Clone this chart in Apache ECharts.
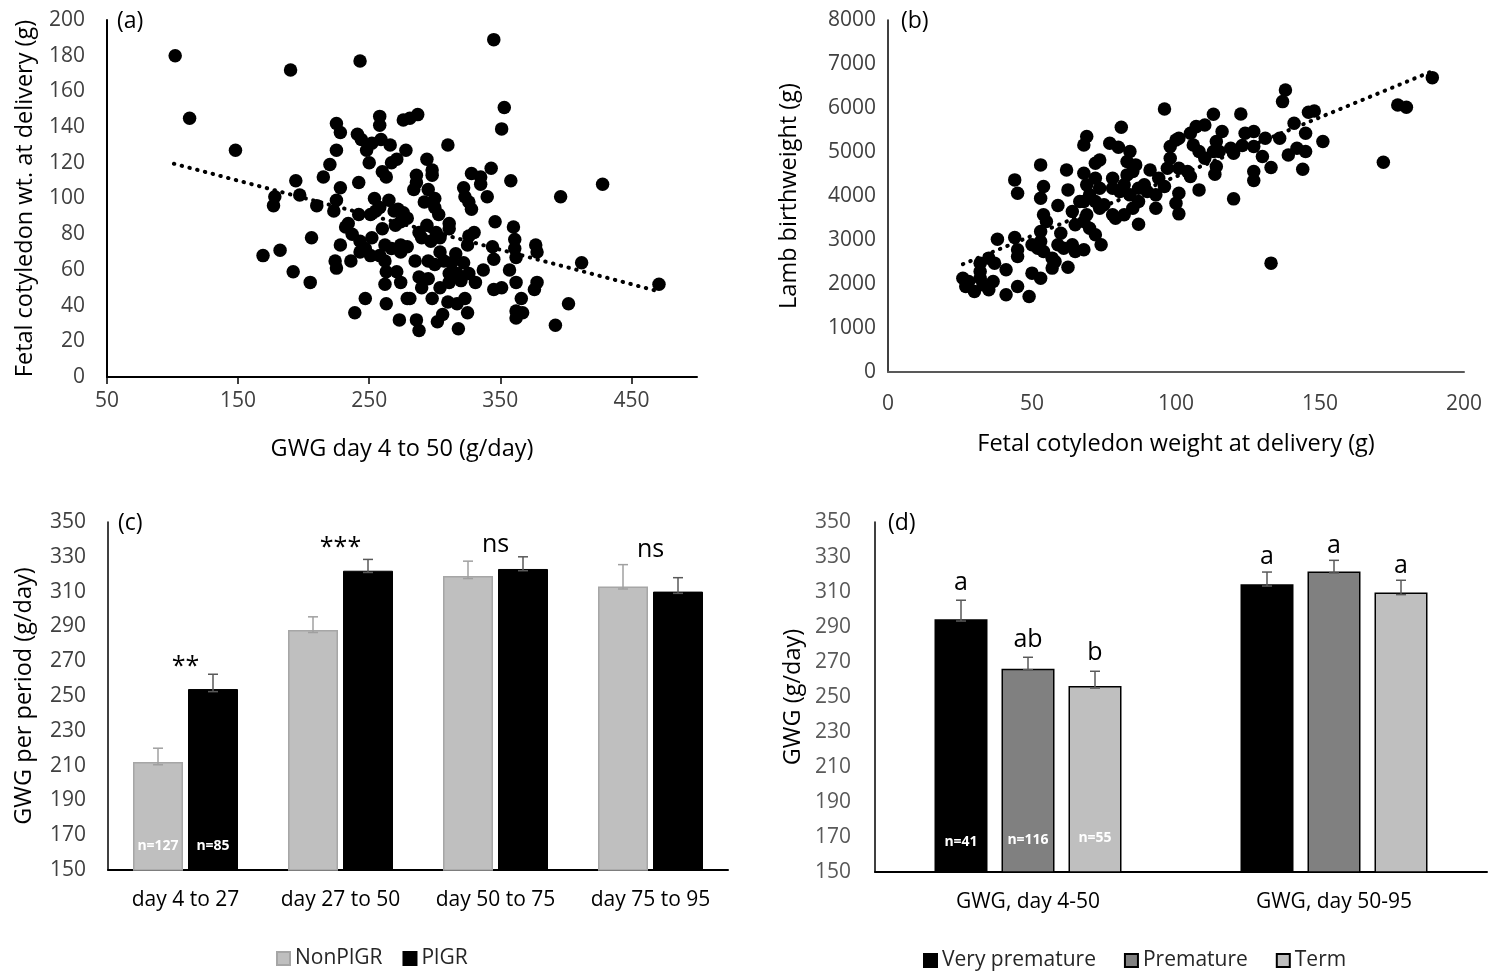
<!DOCTYPE html>
<html>
<head>
<meta charset="utf-8">
<script src="https://cdn.jsdelivr.net/npm/echarts@6/dist/echarts.min.js"></script>
<style>
  html, body { margin: 0; padding: 0; background: #fff; }
  #main { width: 1488px; height: 971px; }
</style>
</head>
<body>
<div id="main"></div>
<script>
// ---- panel (a): GWG day 4-50 vs fetal cotyledon weight ----
const scatterA = [
  [102,180],[190,172],[113,145],[148,127],[194,110],[197,102],[178,101],[177,96],[169,68],[182,71],[192,59],
  [345,189],[243,177],[258,146],[258,141],[276,144],[281,145],[287,147],[225,142],[228,137],[241,136],[244,133],
  [252,131],[259,133],[266,130],[248,127],[278,127],[271,122],[267,120],[250,120],[225,127],[220,119],[310,130],
  [294,122],[298,116],[298,113],[286,113],[286,109],[284,105],[260,115],[263,112],[215,112],[242,109],[228,106],
  [210,96],[223,93],[225,99],[254,100],[265,99],[295,105],[300,100],[300,95],[303,91],[292,98],[322,106],[323,101],
  [326,98],[328,94],[328,114],[335,112],[335,108],[343,117],[340,101],[346,87],[344,73],[345,66],[345,49],[337,60],
  [325,74],[330,81],[326,79],[311,86],[311,83],[331,53],[325,36],[318,27],[323,44],[310,42],[317,41],[306,35],
  [302,31],[288,26],[286,32],[273,32],[298,44],[304,50],[290,50],[295,55],[288,56],[279,44],[281,44],[263,41],
  [262,52],[247,44],[239,36],[205,53],[206,78],[228,74],[224,65],[225,61],[236,65],[232,84],[234,86],[237,80],
  [242,91],[251,91],[255,93],[258,95],[260,83],[269,93],[272,94],[276,92],[279,89],[274,87],[270,85],[243,76],
  [243,70],[247,72],[252,78],[251,68],[258,68],[262,74],[262,65],[267,72],[274,70],[279,73],[274,74],[285,65],
  [288,81],[294,85],[290,78],[297,76],[295,65],[300,63],[304,70],[307,65],[316,69],[313,64],[322,64],[311,58],
  [317,58],[326,58],[311,53],[320,54],[263,59],[271,59],[274,53],[301,81],[304,78],
  [353,151],[351,139],[358,110],[396,101],[428,108],[360,84],[361,77],[361,72],[362,67],[377,74],[378,70],
  [357,60],[351,50],[362,53],[378,53],[376,49],[366,44],[362,37],[367,36],[362,33],[402,41],[392,29],[412,64],[471,52]
];
const trendA = [[101,119.5],[468,48.5]];
const ticksAx = [50,150,250,350,450];

// ---- panel (b): cotyledon weight vs lamb birthweight ----
const scatterB = [
  [26,2133],[27,1944],[30,1831],[28,2058],[32,2133],[33,1982],[35,1869],[36.5,2058],[32,2285],[32,2474],[35,2588],
  [37,2474],[38,3019],[41,2323],[41,1755],[45,1944],[49,1717],[44,3057],[45,2777],[45,2625],[50,2890],[52,2815],
  [53,2966],[54,2739],[50,2247],[53,2133],[57,2361],[58,2512],[62.5,2383],[57,2588],[59,2890],[60,3155],[61,2815],
  [64,2890],[65,2739],[53,3193],[55,3420],[54,3572],[53,3950],[54,4215],[53,4707],[44,4366],[45,4064],[62,4593],
  [59,3783],[62.5,4139],[64,3647],[65,3345],[66.6,3874],
  [96,5979],[81,5562],[69,5350],[68,5161],[77,5199],[80,5108],[84,5010],[73.5,4820],[72,4745],[83,4783],[86,4707],
  [91,4593],[94,4404],[96,4215],[68,4518],[72,4404],[69,4253],[73.5,4177],[70,4026],[68,3874],[72,3874],[75,3799],
  [78,4404],[78,4177],[80.5,4101],[83,4480],[85,4556],[82,4253],[84,4026],[87,4177],[89,4253],[87,3874],[90,4101],
  [93,4026],[93,3723],[85,3723],[82,3572],[78,3572],[79,3496],[73.5,3723],[69,3572],[70,3269],[68,3420],[72,3118],
  [74,2890],[68,2777],[87,3360],
  [98,5123],[100,5275],[101,5312],[98,4858],[97,4631],[101,4631],[104,4556],[105,4442],[100,3836],[101,3594],
  [101,4064],[108,4139],[105,5426],[107,5577],[110,5615],[113,5857],[106,5161],[108,5010],[110,4858],[113,5010],
  [114,5237],[116,5464],[115,5010],[114,4669],[113.5,4495],[120,4972],[119,5085],[120,3935],[122.5,5865],[124,5426],
  [127,5464],[131,5312],[123,5146],[127,5123],[130,4896],[133,4646],[127,4556],[127,4351],[133,2474],
  [138,6410],[137,6145],[146,5903],[148,5933],[141,5653],[145,5426],[151,5237],[136,5312],[139,4934],[142,5085],
  [145,5010],[144,4609],[172,4767],[177,6069],[180,6016],[189,6690]
];
const trendB = [[26,2450],[188,6810]];

// ---- panel (c): GWG per period, NonPlGR vs PlGR ----
const periods = ['day 4 to 27', 'day 27 to 50', 'day 50 to 75', 'day 75 to 95'];
const nonPlgr = [212, 288, 319, 313];
const plgr = [254, 322, 323, 310];
const nonPlgrErrLow = [210.5, 286.5, 317.5, 311.5];
const nonPlgrErrHigh = [220, 295.5, 327.5, 325.5];
const plgrErrLow = [252.5, 321, 322, 309];
const plgrErrHigh = [262.5, 328.5, 330, 318];
const sigText = ['**', '***', 'ns', 'ns'];
const sigY = [267, 335, 337, 334];
const nTextC = ['n=127', 'n=85'];
const nYC = 163.5;

// ---- panel (d): GWG by gestation length ----
const windows = ['GWG, day 4-50', 'GWG, day 50-95'];
const veryPremature = [294.4, 314.4];
const premature = [266.2, 321.7];
const term = [256.3, 309.7];
const vpErr = [[293.4, 305.3], [313.4, 321.4]];
const prErr = [[265.6, 272.7], [320.9, 328.1]];
const tmErr = [[255.1, 264.7], [308.5, 316.7]];
const letters = [['a', 'a'], ['ab', 'a'], ['b', 'a']];
const letterY = [[315, 330], [282.5, 336.5], [275, 325]];
const nTextD = ['n=41', 'n=116', 'n=55'];
const nYD = [167, 168.5, 169.5];

const ticksGWG = [150,170,190,210,230,250,270,290,310,330,350];

const FONT = '"Open Sans", "Noto Sans", sans-serif';
const TICK = '#404040';

// bar geometry (px)
const BW_C = 50, GAP_C = 5;
const BW_D = 53, GAP_D = 14;
const offC = [-(BW_C + GAP_C) / 2, (BW_C + GAP_C) / 2];
const offD = [-(BW_D + GAP_D), 0, BW_D + GAP_D];

const chart = echarts.init(document.getElementById('main'));

function errSeries(gi, lows, highs, off, color) {
  return {
    type: 'custom', xAxisIndex: gi, yAxisIndex: gi, z: 5, silent: true,
    data: lows.map((l, i) => [i, l, highs[i]]),
    renderItem: (params, api) => {
      const lo = api.coord([api.value(0), api.value(1)]);
      const hi = api.coord([api.value(0), api.value(2)]);
      const x = lo[0] + off, c = 5;
      const st = { stroke: color, lineWidth: 1.5 };
      return { type: 'group', children: [
        { type: 'line', shape: { x1: x, y1: lo[1], x2: x, y2: hi[1] }, style: st },
        { type: 'line', shape: { x1: x - c, y1: hi[1], x2: x + c, y2: hi[1] }, style: st },
        { type: 'line', shape: { x1: x - c, y1: lo[1], x2: x + c, y2: lo[1] }, style: st }
      ]};
    }
  };
}

function textSeries(gi, texts, ys, off, font, color) {
  return {
    type: 'custom', xAxisIndex: gi, yAxisIndex: gi, z: 6, silent: true,
    data: ys.map((y, i) => [i, y]),
    renderItem: (params, api) => {
      const p = api.coord([api.value(0), api.value(1)]);
      return { type: 'text', style: {
        text: texts[params.dataIndex], x: p[0] + off, y: p[1],
        fill: color, font: font, align: 'center', verticalAlign: 'middle',
        textAlign: 'center', textVerticalAlign: 'middle'
      }};
    }
  };
}

const nameStyle = { fontSize: 23.5, color: '#000', fontFamily: FONT };
const tickStyle = { fontSize: 21, color: TICK, fontFamily: FONT };
const catStyle = { interval: 0, hideOverlap: false, margin: 20, fontSize: 21, color: '#000', fontFamily: FONT };
const plain = v => String(v);

const option = {
  backgroundColor: '#fff',
  animation: false,
  textStyle: { fontFamily: FONT },
  grid: [
    { left: 107, top: 20, width: 590, height: 357, outerBoundsMode: 'none' },
    { left: 888, top: 20, width: 576, height: 352, outerBoundsMode: 'none' },
    { left: 108, top: 522, width: 620, height: 348, outerBoundsMode: 'none' },
    { left: 875, top: 522, width: 612, height: 350, outerBoundsMode: 'none' }
  ],
  title: [
    { text: '(a)', left: 112, top: 5, textStyle: { fontSize: 23, fontWeight: 'normal', color: '#000', fontFamily: FONT } },
    { text: '(b)', left: 896, top: 5, textStyle: { fontSize: 23, fontWeight: 'normal', color: '#000', fontFamily: FONT } },
    { text: '(c)', left: 113, top: 507, textStyle: { fontSize: 23, fontWeight: 'normal', color: '#000', fontFamily: FONT } },
    { text: '(d)', left: 883, top: 507, textStyle: { fontSize: 23, fontWeight: 'normal', color: '#000', fontFamily: FONT } }
  ],
  legend: [
    { data: ['NonPlGR', 'PlGR'], left: 271, top: 943, icon: 'rect', itemWidth: 13, itemHeight: 13,
      itemGap: 20, selectedMode: false, textStyle: { fontSize: 21, color: '#262626', fontFamily: FONT } },
    { data: ['Very premature', 'Premature', 'Term'], left: 918, top: 945, icon: 'rect', itemWidth: 13, itemHeight: 13,
      itemGap: 28, selectedMode: false, textStyle: { fontSize: 21, color: '#262626', fontFamily: FONT } }
  ],
  xAxis: [
    { type: 'value', gridIndex: 0, min: 50, max: 500,
      name: 'GWG day 4 to 50 (g/day)', nameLocation: 'middle', nameGap: 60, nameTextStyle: nameStyle,
      axisLine: { show: true, onZero: false, lineStyle: { color: '#000', width: 2 } },
      axisTick: { show: true, length: 7, customValues: ticksAx, lineStyle: { color: '#000', width: 1.5 } },
      axisLabel: { customValues: ticksAx, margin: 14, ...tickStyle },
      splitLine: { show: false } },
    { type: 'value', gridIndex: 1, min: 0, max: 200, interval: 50,
      name: 'Fetal cotyledon weight at delivery (g)', nameLocation: 'middle', nameGap: 60, nameTextStyle: nameStyle,
      axisLine: { show: true, onZero: false, lineStyle: { color: '#595959', width: 2 } },
      axisTick: { show: false },
      axisLabel: { margin: 22, showMaxLabel: true, formatter: plain, ...tickStyle },
      splitLine: { show: false } },
    { type: 'category', gridIndex: 2, data: periods,
      axisLine: { show: true, onZero: false, lineStyle: { color: '#000', width: 2 } },
      axisTick: { show: false },
      axisLabel: catStyle },
    { type: 'category', gridIndex: 3, data: windows,
      axisLine: { show: true, onZero: false, lineStyle: { color: '#000', width: 2 } },
      axisTick: { show: false },
      axisLabel: catStyle }
  ],
  yAxis: [
    { type: 'value', gridIndex: 0, min: 0, max: 200, interval: 20,
      name: 'Fetal cotyledon wt. at delivery (g)', nameLocation: 'middle', nameGap: 70, nameTextStyle: nameStyle,
      axisLine: { show: true, onZero: false, lineStyle: { color: '#000', width: 2 } },
      axisTick: { show: false },
      axisLabel: { margin: 22, ...tickStyle },
      splitLine: { show: false } },
    { type: 'value', gridIndex: 1, min: 0, max: 8000, interval: 1000,
      name: 'Lamb birthweight (g)', nameLocation: 'middle', nameGap: 87, nameTextStyle: nameStyle,
      axisLine: { show: true, onZero: false, lineStyle: { color: '#000', width: 1.5 } },
      axisTick: { show: false },
      axisLabel: { margin: 12, formatter: plain, ...tickStyle },
      splitLine: { show: false } },
    { type: 'value', gridIndex: 2, min: 150, max: 350,
      name: 'GWG per period (g/day)', nameLocation: 'middle', nameGap: 72, nameTextStyle: nameStyle,
      axisLine: { show: true, onZero: false, lineStyle: { color: '#000', width: 1.5 } },
      axisTick: { show: false },
      axisLabel: { margin: 22, customValues: ticksGWG, ...tickStyle },
      splitLine: { show: false } },
    { type: 'value', gridIndex: 3, min: 150, max: 350,
      name: 'GWG (g/day)', nameLocation: 'middle', nameGap: 70, nameTextStyle: nameStyle,
      axisLine: { show: true, onZero: false, lineStyle: { color: '#000', width: 1.5 } },
      axisTick: { show: false },
      axisLabel: { margin: 24, customValues: ticksGWG, fontSize: 21, color: '#595959', fontFamily: FONT },
      splitLine: { show: false } }
  ],
  series: [
    // (a)
    { type: 'line', xAxisIndex: 0, yAxisIndex: 0, data: trendA, symbol: 'none', z: 1, silent: true,
      lineStyle: { color: '#000', width: 4, type: [0.5, 7.5], cap: 'round' } },
    { type: 'scatter', xAxisIndex: 0, yAxisIndex: 0, data: scatterA, symbolSize: 13.5, z: 3,
      itemStyle: { color: '#000', opacity: 1 } },
    // (b)
    { type: 'line', xAxisIndex: 1, yAxisIndex: 1, data: trendB, symbol: 'none', z: 1, silent: true,
      lineStyle: { color: '#000', width: 4, type: [0.5, 7.5], cap: 'round' } },
    { type: 'scatter', xAxisIndex: 1, yAxisIndex: 1, data: scatterB, symbolSize: 13.5, z: 3,
      itemStyle: { color: '#000', opacity: 1 } },
    // (c)
    { name: 'NonPlGR', type: 'bar', xAxisIndex: 2, yAxisIndex: 2, data: nonPlgr,
      barWidth: BW_C, barGap: (GAP_C / BW_C * 100) + '%',
      itemStyle: { color: '#bfbfbf', borderColor: '#a6a6a6', borderWidth: 1.5 } },
    { name: 'PlGR', type: 'bar', xAxisIndex: 2, yAxisIndex: 2, data: plgr,
      barWidth: BW_C, barGap: (GAP_C / BW_C * 100) + '%',
      itemStyle: { color: '#000', borderColor: '#000', borderWidth: 1 } },
    errSeries(2, nonPlgrErrLow, nonPlgrErrHigh, offC[0], '#a0a0a0'),
    errSeries(2, plgrErrLow, plgrErrHigh, offC[1], '#595959'),
    textSeries(2, sigText, sigY, 0, '25px ' + FONT, '#000'),
    textSeries(2, [nTextC[0]], [nYC], offC[0], 'bold 14px ' + FONT, '#fff'),
    textSeries(2, [nTextC[1]], [nYC], offC[1], 'bold 14px ' + FONT, '#fff'),
    // (d)
    { name: 'Very premature', type: 'bar', xAxisIndex: 3, yAxisIndex: 3, data: veryPremature,
      barWidth: BW_D, barGap: (GAP_D / BW_D * 100) + '%',
      itemStyle: { color: '#000', borderColor: '#000', borderWidth: 1.5 } },
    { name: 'Premature', type: 'bar', xAxisIndex: 3, yAxisIndex: 3, data: premature,
      barWidth: BW_D, barGap: (GAP_D / BW_D * 100) + '%',
      itemStyle: { color: '#808080', borderColor: '#000', borderWidth: 1.5 } },
    { name: 'Term', type: 'bar', xAxisIndex: 3, yAxisIndex: 3, data: term,
      barWidth: BW_D, barGap: (GAP_D / BW_D * 100) + '%',
      itemStyle: { color: '#bfbfbf', borderColor: '#000', borderWidth: 1.5 } },
    errSeries(3, vpErr.map(e => e[0]), vpErr.map(e => e[1]), offD[0], '#595959'),
    errSeries(3, prErr.map(e => e[0]), prErr.map(e => e[1]), offD[1], '#595959'),
    errSeries(3, tmErr.map(e => e[0]), tmErr.map(e => e[1]), offD[2], '#595959'),
    textSeries(3, letters[0], letterY[0], offD[0], '25px ' + FONT, '#000'),
    textSeries(3, letters[1], letterY[1], offD[1], '25px ' + FONT, '#000'),
    textSeries(3, letters[2], letterY[2], offD[2], '25px ' + FONT, '#000'),
    textSeries(3, [nTextD[0]], [nYD[0]], offD[0], 'bold 14px ' + FONT, '#fff'),
    textSeries(3, [nTextD[1]], [nYD[1]], offD[1], 'bold 14px ' + FONT, '#fff'),
    textSeries(3, [nTextD[2]], [nYD[2]], offD[2], 'bold 14px ' + FONT, '#fff')
  ]
};

chart.setOption(option);
</script>
</body>
</html>
